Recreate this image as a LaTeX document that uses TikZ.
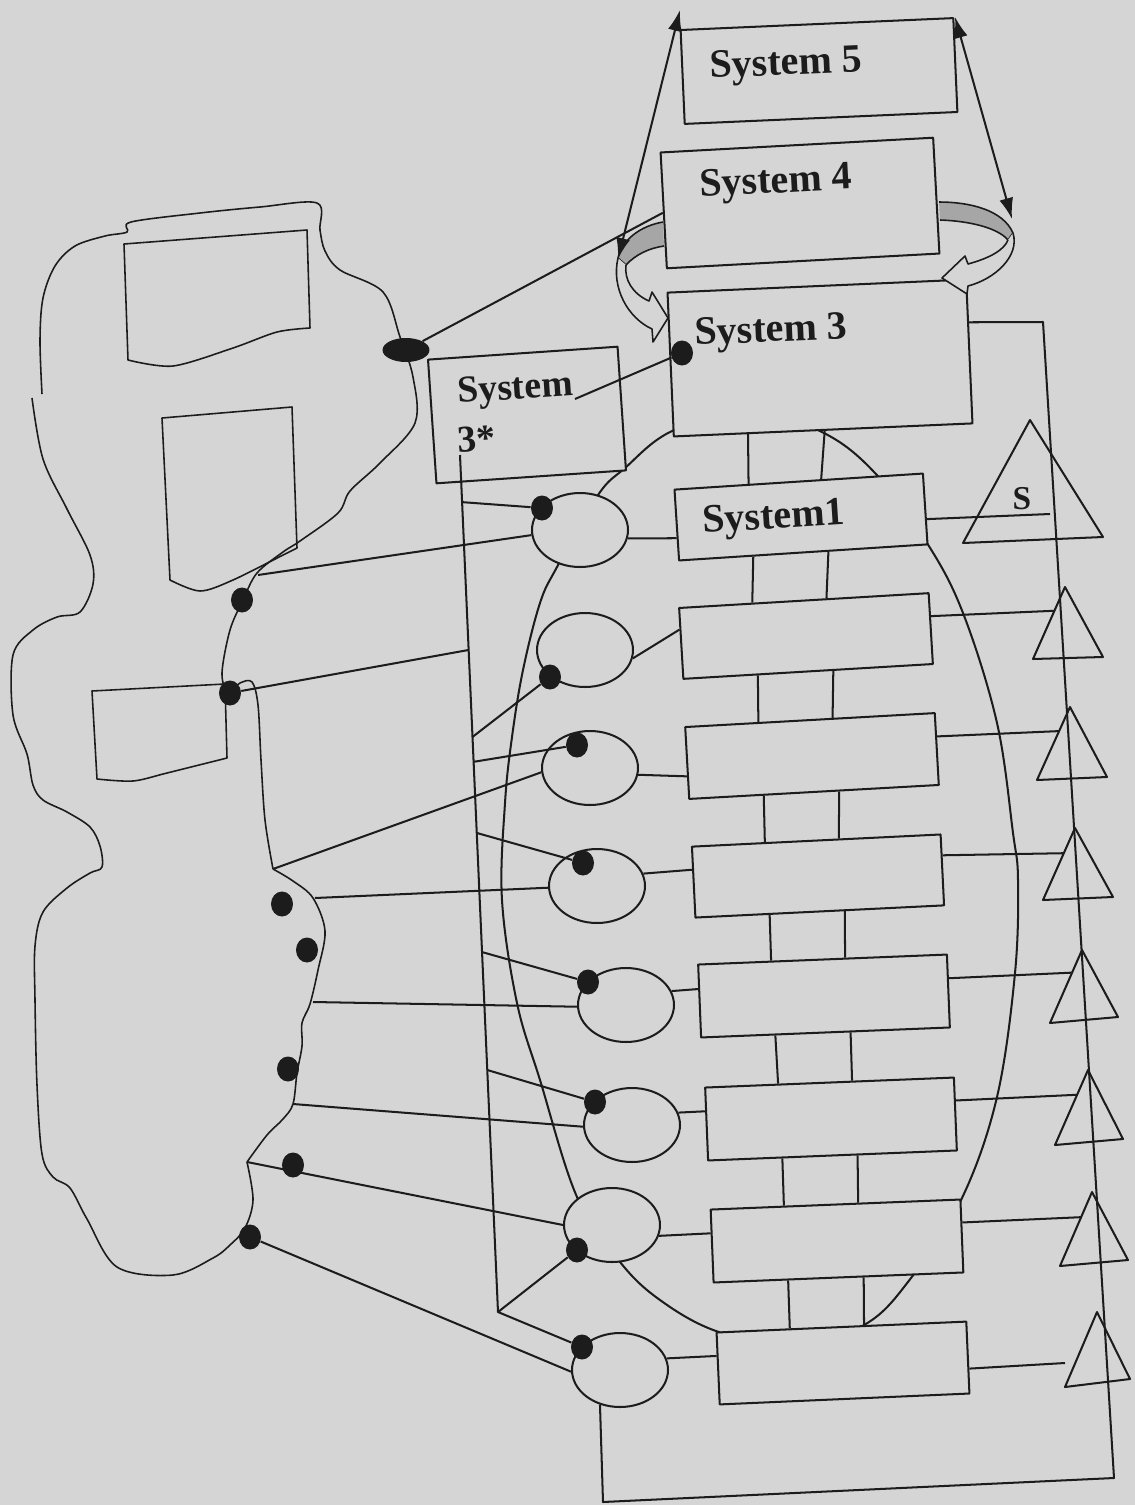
\documentclass[tikz,border=0pt]{standalone}
\usepackage{fontspec}
\setmainfont{Liberation Serif}
\usetikzlibrary{calc,shapes.geometric,arrows.meta}
\definecolor{bgc}{HTML}{D5D5D5}
\definecolor{ink}{HTML}{1C1C1C}
\definecolor{band}{HTML}{A6A6A6}
\begin{document}
\begin{tikzpicture}[x=0.02cm,y=-0.02cm,line join=round,
  ln/.style={draw=ink,line width=1.15pt},
  thin/.style={draw=ink,line width=0.9pt},
  box/.style={draw=ink,fill=bgc,line width=1.15pt,inner sep=0pt,rectangle},
  oval/.style={draw=ink,fill=bgc,line width=1.15pt,ellipse,inner sep=0pt,minimum width=1.92cm,minimum height=1.48cm},
  dot/.style={fill=ink,ellipse,inner sep=0pt,minimum width=0.44cm,minimum height=0.5cm},
  lab/.style={text=ink,font=\fontsize{22.8}{25}\selectfont\bfseries,inner sep=0pt,anchor=base west},
  labs/.style={text=ink,font=\fontsize{21.5}{24}\selectfont\bfseries,inner sep=0pt,anchor=base west}]
\fill[bgc] (0,0) rectangle (1135,1505);
\useasboundingbox (0,0) rectangle (1135,1505);

% lens (large loop behind the System 1 column)
\draw[ln] plot[smooth cycle, tension=0.6] coordinates {(745,408) (670,432) (625,468) (598,495) (557,567) (540,603) (523,670) (512,737) (505,803) (502,900) (517,1003) (540,1080) (577,1197) (620,1262) (660,1300) (716,1331) (790,1346) (864,1325) (911,1278) (962,1198) (997,1097) (1015,973) (1018,880) (1013,833) (997,723) (963,613) (927,543) (875,473) (822,432)};

% environment blob
\draw[thin] plot[smooth, tension=0.55] coordinates {(42,394) (40,340) (43,298) (55,266) (75,246) (105,236) (127,232) (131,222) (200,213) (260,207) (317,203) (320,230) (325,251) (340,270) (383,292) (400,337) (413,377) (415,423) (380,463) (350,491) (338,513) (300,541) (283,552) (257,573) (243,600) (230,630) (222,673) (228,692) (240,683) (252,682) (258,705) (261,760) (265,820) (273,869)};
\draw[thin] plot[smooth, tension=0.55] coordinates {(273,869) (293,881) (313,898) (325,931) (318,970) (310,1004) (302,1023) (302,1046) (297,1073) (293,1104) (283,1119) (267,1135) (247,1162)};
\draw[thin] plot[smooth, tension=0.55] coordinates {(247,1162) (253,1200) (245,1228) (230,1245) (213,1258) (173,1275) (117,1267) (87,1219) (70,1188) (53,1177) (42,1154) (37,1085) (35,1000) (35,946) (43,912) (67,888) (90,873) (102,867) (100,846) (90,827) (67,812) (43,800) (33,785) (27,754) (13,715) (13,655) (33,630) (57,617) (80,612) (93,584) (90,555) (67,509) (43,459) (32,398)};
\draw[thin] (124,244) -- (307,230) -- (310,328) -- plot[smooth] coordinates {(310,328) (277,332) (233,348) (173,366) (128,360)} -- cycle;
\draw[thin] (162,418) -- (292,407) -- (297,548) -- plot[smooth] coordinates {(297,548) (287,553) (233,580) (200,591) (170,580)} -- cycle;
\draw[thin] (92,691) -- (225,684) -- (227,758) -- plot[smooth] coordinates {(227,758) (167,773) (133,781) (97,779)} -- cycle;

% boxes
\node[box,minimum width=5.46cm,minimum height=1.88cm,rotate=2.5] (S5) at (819,71) {};
\node[box,minimum width=5.46cm,minimum height=2.32cm,rotate=3.1] (S4) at (800,203) {};
\node[box,minimum width=5.98cm,minimum height=2.88cm,rotate=2.5] (S3) at (820,358) {};
\node[box,minimum width=3.8cm,minimum height=2.48cm,rotate=3.9] (S3s) at (527,415) {};
\node[box,minimum width=4.98cm,minimum height=1.42cm,rotate=3.7] (B1) at (801,517) {};
\node[box,minimum width=5.0cm,minimum height=1.42cm,rotate=3.4] (B2) at (806,636) {};
\node[box,minimum width=5.0cm,minimum height=1.44cm,rotate=3.2] (B3) at (812,756) {};
\node[box,minimum width=4.98cm,minimum height=1.42cm,rotate=2.8] (B4) at (818,876) {};
\node[box,minimum width=4.98cm,minimum height=1.46cm,rotate=2.3] (B5) at (824,996) {};
\node[box,minimum width=4.98cm,minimum height=1.46cm,rotate=2.3] (B6) at (831,1119) {};
\node[box,minimum width=5.0cm,minimum height=1.46cm,rotate=2.3] (B7) at (837,1241) {};
\node[box,minimum width=5.0cm,minimum height=1.44cm,rotate=2.5] (B8) at (843,1363) {};

% ovals
\node[oval] (E1) at (580,530) {};
\node[oval] (E2) at (585,650) {};
\node[oval] (E3) at (590,768) {};
\node[oval] (E4) at (597,886) {};
\node[oval] (E5) at (626,1005) {};
\node[oval] (E6) at (632,1125) {};
\node[oval] (E7) at (612,1225) {};
\node[oval] (E8) at (620,1370) {};

% dots
\node[dot] (D0) at (682,353) {};
\node[dot] (D1) at (542,508) {};
\node[dot] (D2) at (550,677) {};
\node[dot] (D3) at (577,745) {};
\node[dot] (D4) at (583,863) {};
\node[dot] (D5) at (588,982) {};
\node[dot] (D6) at (595,1102) {};
\node[dot] (D7) at (577,1250) {};
\node[dot] (D8) at (582,1347) {};
\node[fill=ink,ellipse,inner sep=0pt,minimum width=0.94cm,minimum height=0.48cm] (bd) at (406,350) {};
\node[dot] (bd1) at (242,600) {};
\node[dot] (bd2) at (230,693) {};
\node[dot] (bd3) at (282,904) {};
\node[dot] (bd4) at (307,950) {};
\node[dot] (bd5) at (288,1069) {};
\node[dot] (bd6) at (293,1165) {};
\node[dot] (bd7) at (250,1237) {};

% triangles
\foreach \n/\ax/\ay/\lx/\ly/\rx/\ry in {1/1030/420/963/543/1103/537, 2/1065/587/1033/659/1103/657, 3/1070/707/1037/780/1107/777, 4/1075/828/1043/900/1113/897, 5/1082/950/1050/1023/1118/1017, 6/1088/1070/1055/1145/1123/1139, 7/1092/1192/1060/1266/1128/1260, 8/1097/1312/1065/1387/1130/1379}{
  \coordinate (T\n a) at (\ax,\ay);
  \coordinate (T\n l) at (\lx,\ly);
  \coordinate (T\n r) at (\rx,\ry);
  \draw[ln] (T\n a) -- (T\n l) -- (T\n r) -- cycle;
}

% right feedback loop
\coordinate (L1) at (603,1502);
\coordinate (L2) at (1114,1478);
\coordinate (L3) at (1043,322);
\draw[ln] (E8.240) -- (L1) -- (L2) -- (L3) -- ($(S3.north east)!0.3!(S3.south east)$);

% System 3* channel
\coordinate (V1) at (460,455);
\coordinate (V2) at (498,1312);
\draw[ln] (V1) -- (V2);
\draw[ln] ($(V1)!0.055!(V2)$) -- (D1);
\draw[ln] ($(V1)!0.329!(V2)$) -- (D2);
\draw[ln] ($(V1)!0.358!(V2)$) -- (D3);
\draw[ln] ($(V1)!0.441!(V2)$) -- (D4);
\draw[ln] ($(V1)!0.58!(V2)$) -- (D5);
\draw[ln] ($(V1)!0.7176!(V2)$) -- (D6);
\draw[ln] (D7) -- (V2) -- (D8);
\coordinate (q) at (575,399);
\draw[ln] (q) -- (D0);

% environment links
\coordinate (p1) at (258,575);
\coordinate (p3) at (273,869);
\coordinate (p4) at (315,898);
\coordinate (p5) at (313,1002);
\coordinate (p6) at (293,1104);
\coordinate (p7) at (247,1162);
\draw[ln] (bd) -- ($(S4.north west)!0.52!(S4.south west)$);
\draw[ln] (p1) -- (E1.186);
\draw[ln] (bd2) -- ($(V1)!0.2275!(V2)$);
\draw[ln] (p3) -- (E3.185);
\draw[ln] (p4) -- (E4.182);
\draw[ln] (p5) -- (E5.182);
\draw[ln] (p6) -- (E6.182);
\draw[ln] (p7) -- (E7.west);
\draw[ln] (bd7) -- (E8.182);

% ovals to boxes
\draw[ln] (E1.350) -- ($(B1.north west)!0.68!(B1.south west)$);
\draw[ln] (E2.350) -- ($(B2.north west)!0.31!(B2.south west)$);
\draw[ln] (E3.352) -- ($(B3.north west)!0.68!(B3.south west)$);
\draw[ln] (E4.15) -- ($(B4.north west)!0.33!(B4.south west)$);
\draw[ln] (E5.17) -- ($(B5.north west)!0.34!(B5.south west)$);
\draw[ln] (E6.15) -- ($(B6.north west)!0.33!(B6.south west)$);
\draw[ln] (E7.347) -- ($(B7.north west)!0.33!(B7.south west)$);
\draw[ln] (E8.14) -- ($(B8.north west)!0.33!(B8.south west)$);

% boxes to triangles
\coordinate (s1) at (1050,514);
\coordinate (s8) at (1065,1363);
\draw[ln] ($(B1.north east)!0.64!(B1.south east)$) -- (s1);
\draw[ln] ($(B2.north east)!0.33!(B2.south east)$) -- ($(T2a)!0.33!(T2l)$);
\draw[ln] ($(B3.north east)!0.33!(B3.south east)$) -- ($(T3a)!0.33!(T3l)$);
\draw[ln] ($(B4.north east)!0.30!(B4.south east)$) -- ($(T4a)!0.35!(T4l)$);
\draw[ln] ($(B5.north east)!0.33!(B5.south east)$) -- ($(T5a)!0.31!(T5l)$);
\draw[ln] ($(B6.north east)!0.32!(B6.south east)$) -- ($(T6a)!0.33!(T6l)$);
\draw[ln] ($(B7.north east)!0.32!(B7.south east)$) -- ($(T7a)!0.34!(T7l)$);
\draw[ln] ($(B8.north east)!0.65!(B8.south east)$) -- (s8);

% vertical links between boxes
\draw[ln] ($(S3.south west)!0.25!(S3.south east)$) -- ($(B1.north west)!0.30!(B1.north east)$);
\draw[ln] ($(S3.south west)!0.505!(S3.south east)$) -- ($(B1.north west)!0.59!(B1.north east)$);
\foreach \a/\b in {B1/B2,B2/B3,B3/B4,B4/B5,B5/B6,B6/B7,B7/B8}{
  \draw[ln] ($(\a.south west)!0.30!(\a.south east)$) -- ($(\b.north west)!0.295!(\b.north east)$);
  \draw[ln] ($(\a.south west)!0.60!(\a.south east)$) -- ($(\b.north west)!0.59!(\b.north east)$);
}

% curved arrows between System 4 and System 3
\filldraw[draw=ink,fill=band,line width=0.9pt] (663,222) .. controls (640,226) and (622,240) .. (618,258) -- (626,265) .. controls (636,254) and (650,248) .. (664,246);
\filldraw[draw=ink,fill=bgc,line width=0.9pt] (618,258) .. controls (611,288) and (628,318) .. (652,329) -- (653,342) -- (668,318) -- (652,292) -- (649,301) .. controls (633,294) and (624,280) .. (626,265);
\filldraw[draw=ink,fill=band,line width=0.9pt] (939,202) .. controls (970,202) and (1003,210) .. (1013,233) -- (1008,240) .. controls (998,228) and (970,221) .. (940,220);
\filldraw[draw=ink,fill=bgc,line width=0.9pt] (1013,233) .. controls (1020,256) and (995,279) .. (968,286) -- (967,294) -- (942,278) -- (965,256) -- (968,264) .. controls (990,258) and (1004,250) .. (1008,240);

% System 5 double arrows
\coordinate (A1) at (680,10);
\coordinate (A2) at (618,259);
\coordinate (A3) at (955,17);
\coordinate (A4) at (1012,219);
\draw[ln,{Latex[length=0.42cm,width=0.28cm]}-{Latex[length=0.42cm,width=0.28cm]}] (A1) -- (A2);
\draw[ln,{Latex[length=0.42cm,width=0.28cm]}-{Latex[length=0.42cm,width=0.28cm]}] (A3) -- (A4);

% labels
\node[lab,rotate=2.5] (t5) at (710,78) {System 5};
\node[lab,rotate=3.1] (t4) at (700,197) {System 4};
\node[lab,rotate=2.5] (t3) at (695,345) {System 3};
\node[labs,rotate=3.9] (t3a) at (458,403) {System};
\node[labs,rotate=3.9] (t3b) at (458,453) {3*};
\node[lab,rotate=3.7] (t1) at (703,533) {System1};
\node[text=ink,font=\fontsize{19}{21}\selectfont\bfseries,inner sep=0pt,anchor=base] (tS) at (1022,509) {S};
\end{tikzpicture}
\end{document}
